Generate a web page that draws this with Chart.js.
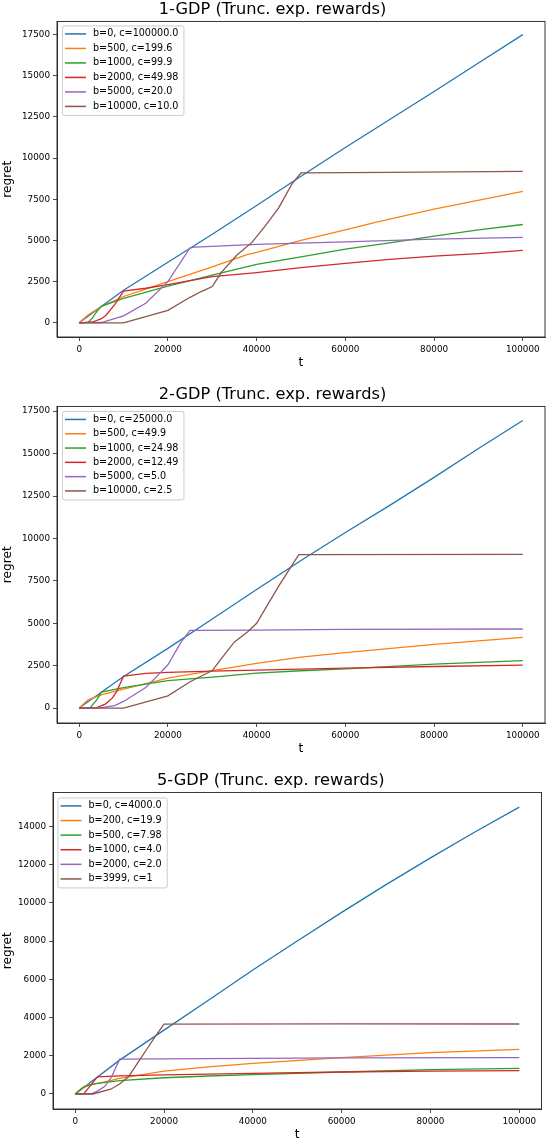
<!DOCTYPE html>
<html lang="en">
<head>
<meta charset="UTF-8">
<title>GDP regret</title>
<script src="https://cdn.jsdelivr.net/npm/chart.js@4.4.1/dist/chart.umd.min.js"></script>
<style>
    html, body {
        margin: 0;
        padding: 0;
        background: white;
        overflow: hidden;
    }
    .painel {
        position: absolute;
        left: 0;
        width: 546px;
    }
</style>
</head>
<body>
<div class="painel" style="top:0;height:371px"><canvas id="g1"></canvas></div>
<div class="painel" style="top:385px;height:372px"><canvas id="g2"></canvas></div>
<div class="painel" style="top:771px;height:372px"><canvas id="g3"></canvas></div>

<script>
// ---- tick labels ----
const xTicks = [0, 20000, 40000, 60000, 80000, 100000];
const yTicks1 = [0, 2500, 5000, 7500, 10000, 12500, 15000, 17500];
const yTicks2 = [0, 2500, 5000, 7500, 10000, 12500, 15000, 17500];
const yTicks3 = [0, 2000, 4000, 6000, 8000, 10000, 12000, 14000];

// ---- 1-GDP, [t, regret] ----
const labels1 = ['b=0, c=100000.0', 'b=500, c=199.6', 'b=1000, c=99.9', 'b=2000, c=49.98', 'b=5000, c=20.0', 'b=10000, c=10.0'];
const gdp1_b0 = [[0,0],[10000,1980],[20000,3680],[30000,5380],[40000,7120],[50000,8900],[60000,10650],[70000,12350],[80000,14050],[90000,15780],[100000,17500]];
const gdp1_b500 = [[0,0],[2000,480],[5000,990],[10000,1600],[15000,2050],[20000,2500],[30000,3400],[38000,4150],[40000,4280],[50000,5000],[60000,5650],[67000,6120],[80000,6900],[100000,7980]];
const gdp1_b1000 = [[0,0],[2000,30],[3000,300],[4000,700],[5000,1000],[7000,1200],[10000,1480],[20000,2230],[30000,2900],[40000,3550],[50000,4000],[60000,4480],[70000,4850],[80000,5270],[90000,5650],[100000,5970]];
const gdp1_b2000 = [[0,0],[3000,50],[5000,250],[6000,450],[8000,1100],[10000,1920],[15000,2100],[20000,2320],[30000,2800],[40000,3050],[50000,3350],[60000,3610],[70000,3850],[80000,4050],[90000,4200],[100000,4400]];
const gdp1_b5000 = [[0,0],[5000,20],[10000,420],[15000,1190],[20000,2500],[25000,4560],[26000,4600],[40000,4760],[60000,4920],[80000,5080],[100000,5190]];
const gdp1_b10000 = [[0,0],[10000,0],[20000,760],[25000,1550],[27500,1900],[30000,2200],[32000,3050],[35500,4100],[39000,4900],[42000,5900],[45000,7000],[48000,8450],[50000,9100],[70000,9130],[100000,9200]];

// ---- 2-GDP ----
const labels2 = ['b=0, c=25000.0', 'b=500, c=49.9', 'b=1000, c=24.98', 'b=2000, c=12.49', 'b=5000, c=5.0', 'b=10000, c=2.5'];
const gdp2_b0 = [[0,0],[10000,1860],[20000,3520],[30000,5250],[40000,6990],[50000,8700],[60000,10350],[70000,11950],[80000,13600],[90000,15300],[100000,16950]];
const gdp2_b500 = [[0,0],[2000,490],[5000,780],[10000,1120],[20000,1760],[30000,2210],[40000,2640],[50000,3000],[60000,3270],[80000,3760],[100000,4170]];
const gdp2_b1000 = [[0,0],[2500,20],[4000,500],[5000,940],[10000,1210],[20000,1620],[30000,1820],[40000,2060],[50000,2200],[60000,2310],[80000,2590],[100000,2800]];
const gdp2_b2000 = [[0,0],[4000,30],[6000,250],[7500,600],[8500,1000],[10000,1880],[15000,2040],[20000,2100],[30000,2180],[40000,2240],[60000,2350],[80000,2450],[100000,2530]];
const gdp2_b5000 = [[0,0],[5000,30],[8000,150],[10000,390],[15000,1210],[18000,2000],[20000,2550],[23000,3900],[25000,4580],[40000,4600],[60000,4640],[100000,4660]];
const gdp2_b10000 = [[0,0],[10000,0],[20000,720],[25000,1550],[30000,2210],[32000,2900],[35000,3900],[38000,4500],[40000,5000],[45000,7200],[49500,9050],[100000,9060]];

// ---- 5-GDP ----
const labels3 = ['b=0, c=4000.0', 'b=200, c=19.9', 'b=500, c=7.98', 'b=1000, c=4.0', 'b=2000, c=2.0', 'b=3999, c=1'];
const gdp3_b0 = [[0,0],[10000,1770],[20000,3340],[30000,4900],[40000,6480],[50000,8000],[60000,9500],[70000,10950],[80000,12350],[90000,13700],[100000,15000]];
const gdp3_b200 = [[0,0],[2000,400],[4000,520],[6000,600],[10000,820],[20000,1200],[30000,1420],[40000,1600],[60000,1900],[80000,2160],[100000,2330]];
const gdp3_b500 = [[0,0],[1500,300],[3000,450],[5000,560],[10000,700],[20000,850],[30000,940],[40000,1010],[60000,1150],[80000,1270],[100000,1340]];
const gdp3_b1000 = [[0,0],[2000,30],[5000,900],[10000,950],[20000,1000],[40000,1075],[60000,1150],[80000,1200],[100000,1220]];
const gdp3_b2000 = [[0,0],[3500,0],[5000,150],[6700,400],[8200,900],[10000,1820],[40000,1860],[60000,1890],[100000,1900]];
const gdp3_b3999 = [[0,0],[4000,0],[8000,250],[10000,520],[12000,900],[14000,1600],[16000,2300],[18000,3000],[20000,3650],[60000,3670],[100000,3660]];

const cores = ['#1f77b4', '#ff7f0e', '#2ca02c', '#d62728', '#9467bd', '#8c564b'];
const fonte = '"DejaVu Sans", sans-serif';

// legenda com caixa dentro do grafico (canto superior esquerdo)
const legendaCaixa = {
    id: 'legendaCaixa',
    afterDatasetsDraw(chart, args, opts) {
        const ctx = chart.ctx, a = chart.chartArea;
        const sets = chart.data.datasets;
        ctx.save();
        ctx.font = '9.6px ' + fonte;
        const w = Math.max(...sets.map(d => ctx.measureText(d.label).width));
        const x0 = a.left + opts.dx, y0 = a.top + opts.dy;
        const h = 17 + (sets.length - 1) * opts.passo;
        ctx.fillStyle = 'rgba(255,255,255,0.8)';
        ctx.strokeStyle = '#cccccc';
        ctx.lineWidth = 1;
        ctx.beginPath();
        ctx.roundRect(x0 + 0.5, y0 + 0.5, 31 + w + 5, h, 2);
        ctx.fill();
        ctx.stroke();
        sets.forEach((d, i) => {
            const y = y0 + 8.5 + i * opts.passo;
            ctx.strokeStyle = d.borderColor;
            ctx.lineWidth = 1.5;
            ctx.beginPath();
            ctx.moveTo(x0 + 3, y);
            ctx.lineTo(x0 + 24, y);
            ctx.stroke();
            ctx.fillStyle = '#000';
            ctx.textBaseline = 'middle';
            ctx.fillText(d.label, x0 + 31, y);
        });
        ctx.restore();
    }
};

// moldura completa (topo e direita)
const moldura = {
    id: 'moldura',
    afterDraw(chart) {
        const ctx = chart.ctx, a = chart.chartArea;
        ctx.save();
        ctx.strokeStyle = '#222';
        ctx.lineWidth = 0.9;
        ctx.strokeRect(a.left, a.top, a.right - a.left, a.bottom - a.top);
        ctx.restore();
    }
};

function criarGrafico(id, titulo, series, rotulos, yTicks, yMin, yMax, larguraY, dirPad, leg) {
    const datasets = series.map((s, i) => ({
        label: rotulos[i],
        data: s.map(p => ({x: p[0], y: p[1]})),
        borderColor: cores[i],
        borderWidth: 1.3,
        pointRadius: 0,
        tension: 0,
        fill: false,
        order: series.length - i
    }));
    const eixo = {
        grid: {display: true, drawOnChartArea: false, drawTicks: true, tickLength: 4, tickColor: '#222', tickWidth: 0.8},
        border: {display: true, color: '#222', width: 0.9}
    };
    return new Chart(document.getElementById(id), {
        type: 'line',
        data: {datasets},
        options: {
            animation: false,
            responsive: true,
            maintainAspectRatio: false,
            layout: {padding: {left: 0, right: dirPad, top: 0, bottom: 0}},
            plugins: {
                legend: {display: false},
                tooltip: {enabled: false},
                title: {
                    display: true, text: titulo, color: '#000',
                    font: {family: fonte, size: 16.2, weight: 'normal'},
                    padding: {top: 0, bottom: 2}
                },
                legendaCaixa: leg
            },
            scales: {
                x: {
                    ...eixo,
                    type: 'linear', min: -5000, max: 105000,
                    afterBuildTicks: s => { s.ticks = xTicks.map(v => ({value: v})); },
                    afterFit: s => { s.height = 34; },
                    ticks: {color: '#000', font: {family: fonte, size: 8.8}, padding: 3, maxRotation: 0, callback: v => String(v)},
                    title: {display: true, text: 't', color: '#000', font: {family: fonte, size: 12.2}, padding: {top: 0, bottom: 1}}
                },
                y: {
                    ...eixo,
                    type: 'linear', min: yMin, max: yMax,
                    afterBuildTicks: s => { s.ticks = yTicks.map(v => ({value: v})); },
                    afterFit: s => { s.width = larguraY; },
                    ticks: {color: '#000', font: {family: fonte, size: 8.8}, padding: 3, callback: v => String(v)},
                    title: {display: true, text: 'regret', color: '#000', font: {family: fonte, size: 12.2}, padding: {top: 1, bottom: 0}}
                }
            }
        },
        plugins: [legendaCaixa, moldura]
    });
}

criarGrafico('g1', '1-GDP (Trunc. exp. rewards)',
    [gdp1_b0, gdp1_b500, gdp1_b1000, gdp1_b2000, gdp1_b5000, gdp1_b10000], labels1,
    yTicks1, -860, 18300, 57, 1, {dx: 5, dy: 4, passo: 14.5});
criarGrafico('g2', '2-GDP (Trunc. exp. rewards)',
    [gdp2_b0, gdp2_b500, gdp2_b1000, gdp2_b2000, gdp2_b5000, gdp2_b10000], labels2,
    yTicks2, -880, 17780, 57, 1, {dx: 5, dy: 4.5, passo: 14.3});
criarGrafico('g3', '5-GDP (Trunc. exp. rewards)',
    [gdp3_b0, gdp3_b200, gdp3_b500, gdp3_b1000, gdp3_b2000, gdp3_b3999], labels3,
    yTicks3, -785, 15770, 53, 4.5, {dx: 4.5, dy: 5, passo: 14.6});
</script>
</body>
</html>
